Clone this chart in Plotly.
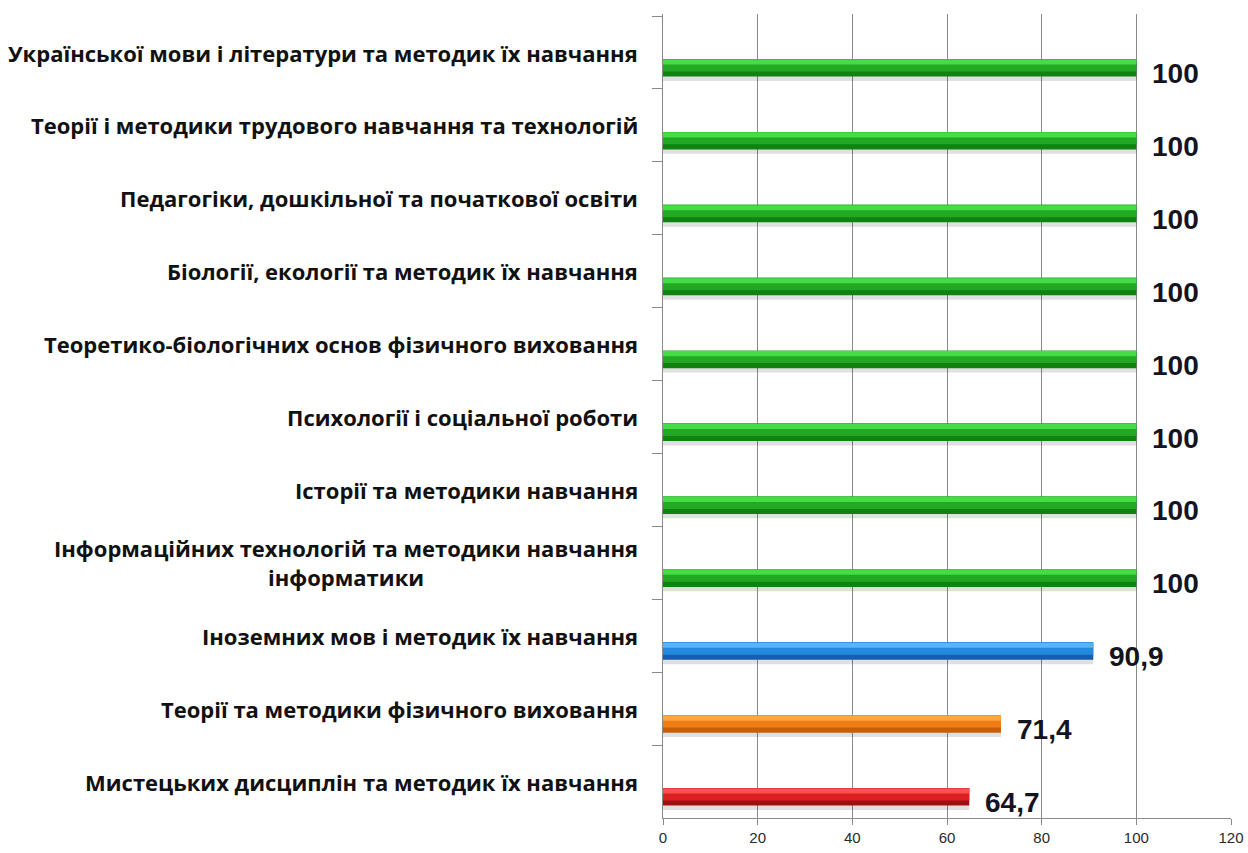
import plotly.graph_objects as go

categories = [
    "Української мови і літератури та методик їх навчання",
    "Теорії і методики трудового навчання та технологій",
    "Педагогіки, дошкільної та початкової освіти",
    "Біології, екології та методик їх навчання",
    "Теоретико-біологічних основ фізичного виховання",
    "Психології і соціальної роботи",
    "Історії та методики навчання",
    "Інформаційних технологій та методики навчання<br>інформатики",
    "Іноземних мов і методик їх навчання",
    "Теорії та методики фізичного виховання",
    "Мистецьких дисциплін та методик їх навчання",
]
values = [100, 100, 100, 100, 100, 100, 100, 100, 90.9, 71.4, 64.7]
value_labels = ["100", "100", "100", "100", "100", "100", "100", "100", "90,9", "71,4", "64,7"]

dark_colors = ["#0f820f"] * 8 + ["#155fae", "#c85e08", "#a00f0f"]
mid_colors = ["#22a822"] * 8 + ["#2489de", "#ee7e14", "#dc2020"]
light_colors = ["#45dc45"] * 8 + ["#52b8f8", "#ffa63c", "#ff5050"]

fig = go.Figure()

# shadow
fig.add_trace(go.Bar(
    x=values, y=categories, orientation="h",
    offset=0.12, width=0.27,
    marker=dict(color="rgba(0,0,0,0.12)", line=dict(width=0)),
    hoverinfo="skip", showlegend=False,
))
# main bar (dark body)
fig.add_trace(go.Bar(
    x=values, y=categories, orientation="h",
    offset=0.09, width=0.24,
    marker=dict(color=dark_colors, line=dict(width=0)),
    showlegend=False,
))
# mid tone
fig.add_trace(go.Bar(
    x=values, y=categories, orientation="h",
    offset=0.09, width=0.17,
    marker=dict(color=mid_colors, line=dict(width=0)),
    hoverinfo="skip", showlegend=False,
))
# highlight (upper lighter band)
fig.add_trace(go.Bar(
    x=values, y=categories, orientation="h",
    offset=0.095, width=0.07,
    marker=dict(color=light_colors, line=dict(width=0)),
    hoverinfo="skip", showlegend=False,
))

annotations = []
for cat in categories:
    annotations.append(dict(
        x=0, xref="paper", xanchor="right", xshift=-23,
        y=cat, yref="y", yanchor="middle",
        text=cat, showarrow=False, align="center",
        font=dict(family="Open Sans", size=22, color="#111111", weight="bold"),
    ))
for cat, v, lab in zip(categories, values, value_labels):
    annotations.append(dict(
        x=v, xref="x", xanchor="left", xshift=14,
        y=cat, yref="y", yanchor="middle", yshift=-21,
        text=lab, showarrow=False,
        font=dict(family="Liberation Sans", size=28, color="#14141e", weight="bold"),
    ))

fig.update_layout(
    width=1248, height=853,
    margin=dict(l=663, r=17, t=14, b=35),
    paper_bgcolor="white", plot_bgcolor="white",
    barmode="overlay",
    annotations=annotations,
    font=dict(family="Liberation Sans"),
)
fig.update_xaxes(
    range=[0, 120], dtick=20, tick0=0,
    showgrid=True, gridcolor="#8a8a8a", gridwidth=1,
    showline=True, linecolor="#8a8a8a", linewidth=1,
    ticks="outside", ticklen=6, tickcolor="#8a8a8a",
    tickfont=dict(size=15, color="#2a2a2a"),
    zeroline=False, automargin=False,
)
fig.update_yaxes(
    type="category", autorange="reversed",
    showticklabels=False,
    showline=True, linecolor="#8a8a8a", linewidth=1,
    ticks="outside", ticklen=10, tickcolor="#8a8a8a",
    tickson="boundaries", showgrid=False, automargin=False,
)

fig.write_html(
    "out.html",
    config={"responsive": False, "displayModeBar": False},
    post_script="document.body.style.margin='0';document.body.style.overflow='hidden';",
)
